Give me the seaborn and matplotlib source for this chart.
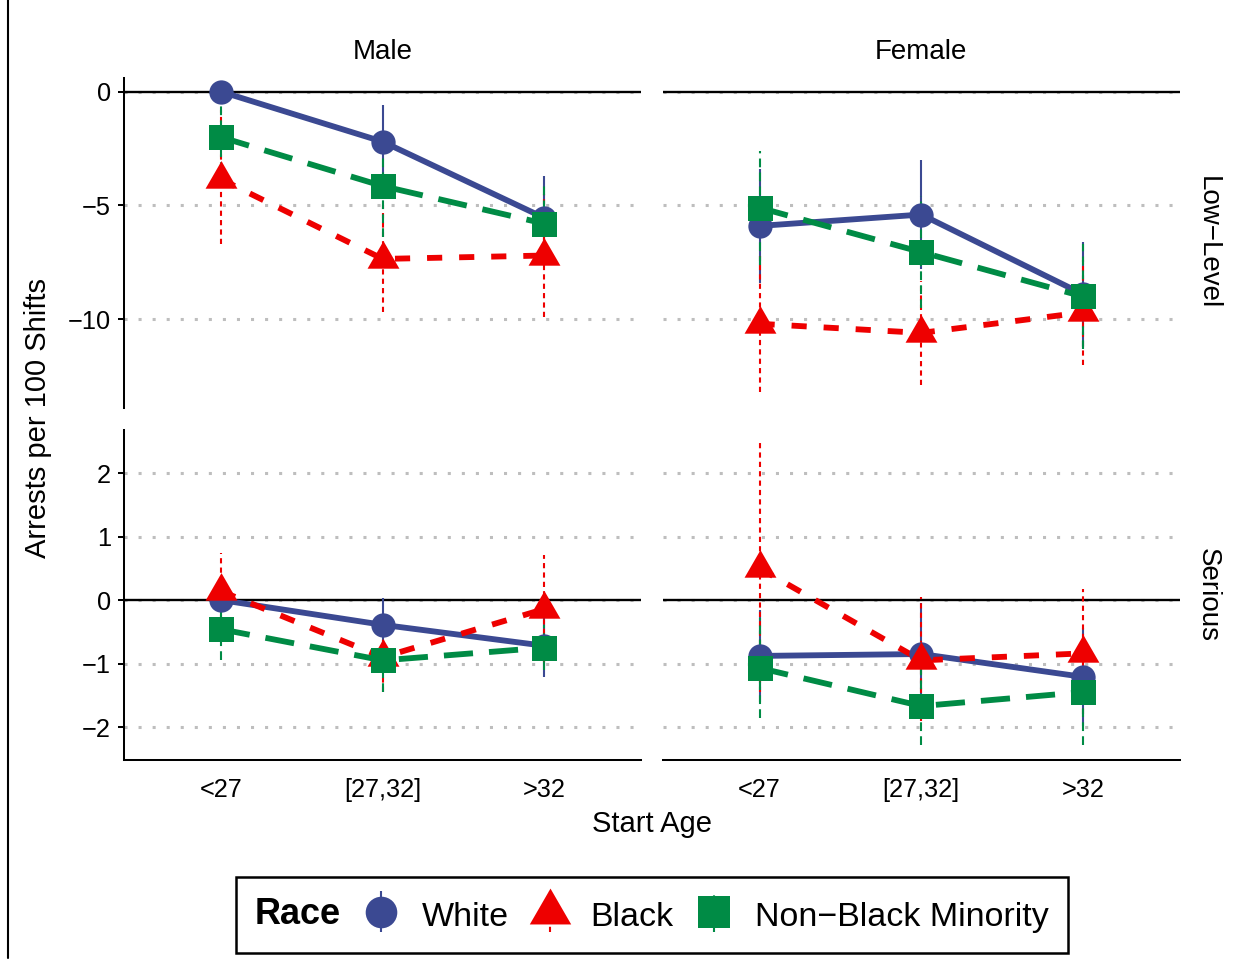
import numpy as np
import pandas as pd
import matplotlib
matplotlib.use("Agg")
import matplotlib.pyplot as plt
import seaborn as sns
from matplotlib.lines import Line2D
from matplotlib.collections import LineCollection
from matplotlib.container import ErrorbarContainer
from matplotlib.legend_handler import HandlerErrorbar
from matplotlib.offsetbox import HPacker

# ---------------- data ----------------
ages = ["<27", "[27,32]", ">32"]
sexes = ["Male", "Female"]
crime_types = ["Low\u2212Level", "Serious"]
races = ["White", "Black", "Non\u2212Black Minority"]

# rows: White, Black, Non-Black Minority ; columns follow `ages`
male_low_est = [[0.0, -2.2, -5.55], [-3.85, -7.35, -7.2], [-2.0, -4.15, -5.8]]
male_low_lo = [[0.0, -3.8, -7.4], [-6.7, -9.7, -9.9], [-3.5, -6.4, -7.6]]
male_low_hi = [[0.0, -0.6, -3.7], [-0.8, -5.0, -4.5], [-0.5, -1.9, -4.0]]

female_low_est = [[-5.9, -5.4, -8.9], [-10.2, -10.6, -9.7], [-5.1, -7.05, -9.0]]
female_low_lo = [[-8.4, -7.8, -11.2], [-13.2, -12.9, -12.0], [-7.6, -9.5, -11.3]]
female_low_hi = [[-3.4, -3.0, -6.6], [-7.2, -8.3, -7.4], [-2.6, -4.6, -6.7]]

male_ser_est = [[0.0, -0.39, -0.72], [0.14, -0.9, -0.14], [-0.46, -0.95, -0.75]]
male_ser_lo = [[0.0, -0.81, -1.21], [-0.46, -1.45, -0.97], [-0.94, -1.45, -1.1]]
male_ser_hi = [[0.0, 0.03, -0.23], [0.74, -0.35, 0.71], [0.02, -0.45, -0.4]]

female_ser_est = [[-0.88, -0.85, -1.21], [0.5, -0.95, -0.84], [-1.07, -1.67, -1.45]]
female_ser_lo = [[-1.6, -1.65, -1.98], [-1.45, -1.9, -1.8], [-1.86, -2.28, -2.28]]
female_ser_hi = [[-0.16, -0.05, -0.44], [2.47, 0.05, 0.17], [-0.28, -1.06, -0.62]]

panels = {
    (crime_types[0], "Male"): (male_low_est, male_low_lo, male_low_hi),
    (crime_types[0], "Female"): (female_low_est, female_low_lo, female_low_hi),
    (crime_types[1], "Male"): (male_ser_est, male_ser_lo, male_ser_hi),
    (crime_types[1], "Female"): (female_ser_est, female_ser_lo, female_ser_hi),
}
rows = []
for (ct, sex), (est, lo, hi) in panels.items():
    for ri, race in enumerate(races):
        for ai, age in enumerate(ages):
            rows.append(dict(Type=ct, Sex=sex, Race=race, Age=age,
                             est=est[ri][ai], lo=lo[ri][ai], hi=hi[ri][ai]))
df = pd.DataFrame(rows)

# ---------------- styles ----------------
colors = {races[0]: "#3B4992", races[1]: "#EE0000", races[2]: "#008B45"}
tri = [(0, 1), (-0.866, -0.5), (0.866, -0.5)]
markers = {races[0]: "o", races[1]: tri, races[2]: "s"}
msizes = {races[0]: 17.5, races[1]: 26.5, races[2]: 18}
line_styles = {races[0]: "-", races[1]: (0, (2.6, 2.9)), races[2]: (0, (5.0, 2.75))}
err_styles = {races[0]: "-", races[1]: (0, (2.5, 2.0)), races[2]: (0, (4.2, 2.5))}

sns.set_style("white")
plt.rcParams["font.family"] = ["Liberation Sans", "DejaVu Sans"]
plt.rcParams["axes.unicode_minus"] = True
plt.rcParams["text.color"] = "black"
plt.rcParams["axes.labelcolor"] = "black"
plt.rcParams["axes.titlecolor"] = "black"

W, H = 1253, 969
fig, axes = plt.subplots(2, 2, figsize=(W / 100, H / 100), dpi=100,
                         sharex=True, sharey="row")
fig.subplots_adjust(left=124 / W, right=1180 / W, top=1 - 78 / H,
                    bottom=1 - 760 / H, wspace=0.0406, hspace=0.0667)

for r, ct in enumerate(crime_types):
    for c, sex in enumerate(sexes):
        ax = axes[r, c]
        pdf = df[(df.Type == ct) & (df.Sex == sex)]
        for race in races:
            sub = pdf[pdf.Race == race]
            sns.lineplot(data=sub, x="Age", y="est", ax=ax, color=colors[race],
                         linewidth=4.2, linestyle=line_styles[race], sort=False,
                         errorbar=None, legend=False, zorder=3)
        for race in races:
            sub = pdf[pdf.Race == race]
            ax.vlines(sub["Age"], sub["lo"], sub["hi"], colors=colors[race],
                      linewidth=1.5, linestyles=err_styles[race], zorder=4)
        for race in races:
            sub = pdf[pdf.Race == race]
            sns.lineplot(data=sub, x="Age", y="est", ax=ax, color=colors[race],
                         linestyle="none", marker=markers[race],
                         markersize=msizes[race], markeredgewidth=0,
                         sort=False, errorbar=None, legend=False, zorder=5)
        ax.axhline(0, color="black", lw=1.7, zorder=2)
        ax.set_xlabel("")
        ax.set_ylabel("")
        ax.grid(axis="y", color="#BEBEBE", linestyle=(0, (1, 3.6)), linewidth=2.2)
        ax.grid(axis="x", visible=False)
        ax.set_axisbelow(True)
        for s in ["top", "right"]:
            ax.spines[s].set_visible(False)
        for s in ["left", "bottom"]:
            ax.spines[s].set_color("black")
            ax.spines[s].set_linewidth(1.45)
        ax.tick_params(axis="both", length=4.3, width=1.45, color="black",
                       labelsize=18.3, labelcolor="black")
        ax.tick_params(axis="y", pad=5)
        ax.tick_params(axis="x", pad=8.5)
        if r == 0:
            ax.spines["bottom"].set_visible(False)
            ax.tick_params(axis="x", bottom=False, labelbottom=False)
            ax.set_title(sex, fontsize=20, pad=13.7, color="black")
        if c == 1:
            ax.spines["left"].set_visible(False)
            ax.tick_params(axis="y", left=False, labelleft=False)
            ax.text(1.053, 0.5, ct, rotation=-90, transform=ax.transAxes,
                    ha="center", va="center", fontsize=20, color="black")
        else:
            ax.tick_params(axis="y", left=True, labelleft=True)

axes[0, 0].set_xlim(-0.6, 2.6)
axes[0, 0].set_ylim(-13.9, 0.6)
axes[0, 0].set_yticks([0, -5, -10])
axes[1, 0].set_ylim(-2.52, 2.68)
axes[1, 0].set_yticks([2, 1, 0, -1, -2])

fig.text(38 / W, 1 - 418 / H, "Arrests per 100 Shifts", rotation=90,
         ha="center", va="center", fontsize=21, color="black")
fig.text(652 / W, 1 - 824 / H, "Start Age", ha="center", va="center",
         fontsize=21, color="black")

# left edge rule
fig.add_artist(Line2D([8 / W, 8 / W], [1 - 958 / H, 1.0], transform=fig.transFigure,
                      color="black", lw=1.5))

# ---------------- legend ----------------
handles = []
for race in races:
    mk = Line2D([], [], linestyle="none", marker=markers[race],
                markersize=msizes[race] * 1.3, markeredgewidth=0, color=colors[race])
    lc = LineCollection([], colors=colors[race], linewidths=1.5,
                        linestyles=err_styles[race])
    handles.append(ErrorbarContainer((mk, (), (lc,)), has_xerr=False,
                                     has_yerr=True, label=race))

leg = fig.legend(handles, races, loc="center",
                 bbox_to_anchor=(652 / W, 1 - 915 / H), ncol=3, frameon=True,
                 fancybox=False, edgecolor="black", framealpha=1,
                 fontsize=24.5, title="Race",
                 title_fontproperties={"weight": "bold", "size": 26},
                 handlelength=1.2, handleheight=1.25, handletextpad=0.6,
                 columnspacing=0.6, borderpad=0.57,
                 handler_map={ErrorbarContainer: HandlerErrorbar(yerr_size=0.6)})
leg.get_frame().set_linewidth(1.8)
old = leg._legend_box
new = HPacker(pad=old.pad, sep=14.0, align="center", children=old.get_children())
new.set_figure(fig)
new.set_offset(leg._findoffset)
leg._legend_box = new

fig.savefig("out.png", dpi=100)
